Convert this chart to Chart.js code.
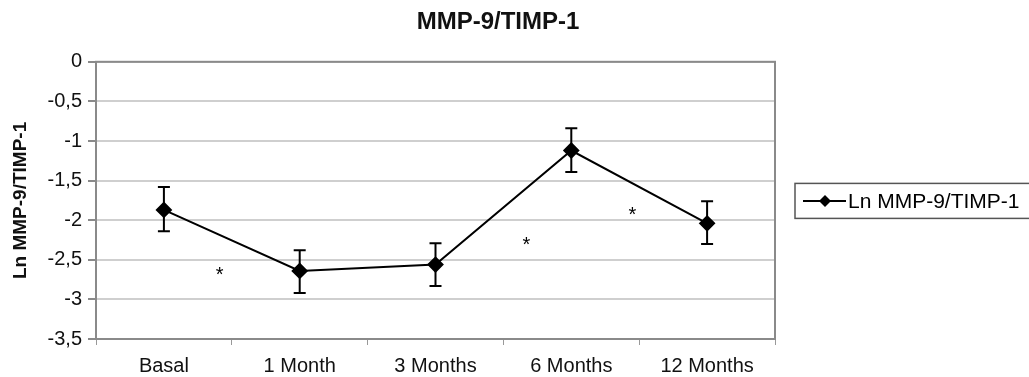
<!DOCTYPE html>
<html>
<head>
<meta charset="utf-8">
<script src="https://cdn.jsdelivr.net/npm/chart.js@4.4.1/dist/chart.umd.min.js"></script>
<style>
  html, body { margin: 0; padding: 0; background: #fff; }
  #wrap { width: 1029px; height: 377px; }
</style>
</head>
<body>
<div id="wrap"><canvas id="ratioChart"></canvas></div>
<script>
// dados
const categories = ['Basal', '1 Month', '3 Months', '6 Months', '12 Months'];
const lnRatio = [-1.87, -2.64, -2.56, -1.12, -2.04];
const errUpper = [-1.58, -2.38, -2.29, -0.84, -1.76];
const errLower = [-2.14, -2.92, -2.83, -1.39, -2.30];
const yTickValues = [0, -0.5, -1, -1.5, -2, -2.5, -3, -3.5];
// asteriscos de significância (posição em índice de categoria / valor)
const starX = [0.41, 2.67, 3.45];
const starY = [-2.64, -2.26, -1.88];

const seriesName = 'Ln MMP-9/TIMP-1';
const FONT = '"Liberation Sans", Arial, sans-serif';

const extrasPlugin = {
    id: 'extras',
    afterDatasetsDraw(chart) {
        const ctx = chart.ctx;
        const x = chart.scales.x;
        const y = chart.scales.y;
        const area = chart.chartArea;

        // borda da área do gráfico
        ctx.save();
        ctx.strokeStyle = '#8a8a8a';
        ctx.lineWidth = 2;
        ctx.strokeRect(area.left, area.top, area.right - area.left, area.bottom - area.top);

        // barras de erro
        ctx.strokeStyle = '#000';
        ctx.lineWidth = 2;
        lnRatio.forEach((v, i) => {
            const px = x.getPixelForValue(i);
            const top = y.getPixelForValue(errUpper[i]);
            const bot = y.getPixelForValue(errLower[i]);
            ctx.beginPath();
            ctx.moveTo(px, top); ctx.lineTo(px, bot);
            ctx.moveTo(px - 6, top); ctx.lineTo(px + 6, top);
            ctx.moveTo(px - 6, bot); ctx.lineTo(px + 6, bot);
            ctx.stroke();
        });

        // asteriscos
        ctx.fillStyle = '#000';
        ctx.font = '20px ' + FONT;
        ctx.textAlign = 'center';
        ctx.textBaseline = 'middle';
        starX.forEach((sx, i) => {
            ctx.fillText('*', x.getPixelForValue(sx), y.getPixelForValue(starY[i]) + 5);
        });

        // legenda
        const lx = area.right + 20;
        const ly = (area.top + area.bottom) / 2 - 17;
        ctx.strokeStyle = '#555';
        ctx.lineWidth = 1.5;
        ctx.strokeRect(lx, ly, 300, 35);
        ctx.strokeStyle = '#000';
        ctx.lineWidth = 2;
        ctx.beginPath();
        ctx.moveTo(lx + 8, ly + 17.5); ctx.lineTo(lx + 51, ly + 17.5);
        ctx.stroke();
        ctx.beginPath();
        const cx = lx + 30, cy = ly + 17.5;
        ctx.moveTo(cx, cy - 6); ctx.lineTo(cx + 6, cy); ctx.lineTo(cx, cy + 6); ctx.lineTo(cx - 6, cy);
        ctx.closePath();
        ctx.fill();
        ctx.font = '21px ' + FONT;
        ctx.textAlign = 'left';
        ctx.fillText(seriesName, lx + 53, cy + 1);
        ctx.restore();
    }
};

const ctx = document.getElementById('ratioChart').getContext('2d');
new Chart(ctx, {
    type: 'line',
    data: {
        labels: categories,
        datasets: [{
            label: seriesName,
            data: lnRatio,
            borderColor: '#000',
            backgroundColor: '#000',
            borderWidth: 2,
            pointStyle: 'rectRot',
            pointRadius: 7,
            pointHoverRadius: 7,
            tension: 0
        }]
    },
    options: {
        responsive: true,
        maintainAspectRatio: false,
        animation: false,
        layout: { padding: { top: 8, right: 39, left: 6, bottom: 0 } },
        plugins: {
            legend: { display: false },
            tooltip: { enabled: false },
            title: {
                display: true,
                text: 'MMP-9/TIMP-1',
                color: '#111',
                font: { family: FONT, size: 24, weight: 'bold' },
                padding: { top: 0, bottom: 25 }
            }
        },
        scales: {
            x: {
                offset: true,
                grid: { offset: true, drawOnChartArea: false, drawTicks: true, tickLength: 6, color: '#999' },
                border: { color: '#8a8a8a', width: 2 },
                ticks: {
                    color: '#111',
                    padding: 9,
                    font: { family: FONT, size: 20 }
                },
                afterFit(scale) { scale.height = 38; }
            },
            y: {
                min: -3.5,
                max: 0,
                afterBuildTicks(scale) { scale.ticks = yTickValues.map(v => ({ value: v })); },
                grid: { color: '#cfcfcf', lineWidth: 2, tickLength: 8, tickColor: '#8a8a8a' },
                border: { color: '#8a8a8a', width: 2 },
                ticks: {
                    color: '#111',
                    padding: 6,
                    font: { family: FONT, size: 20 },
                    callback: v => String(v).replace('.', ',')
                },
                title: {
                    display: true,
                    text: seriesName,
                    color: '#111',
                    font: { family: FONT, size: 19, weight: 'bold' },
                    padding: { top: 3, bottom: 0 }
                },
                afterFit(scale) { scale.width = 90; }
            },
            // eixo vazio à direita só para reservar o espaço da legenda
            legendSpace: {
                type: 'linear',
                position: 'right',
                display: true,
                grid: { display: false, drawTicks: false },
                border: { display: false },
                ticks: { display: false },
                afterFit(scale) { scale.width = 215; }
            }
        }
    },
    plugins: [extrasPlugin]
});
</script>
</body>
</html>
